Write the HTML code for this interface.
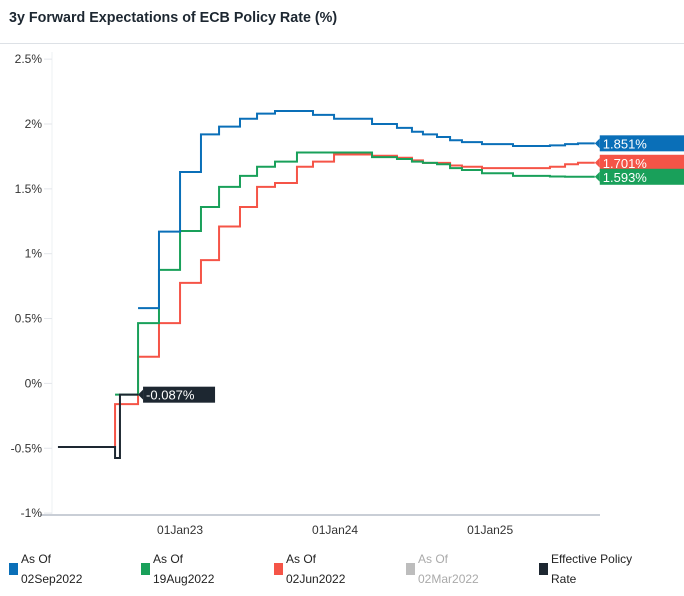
<!DOCTYPE html>
<html><head><meta charset="utf-8"><style>
body{margin:0;width:684px;height:596px;background:#fff;font-family:"Liberation Sans",sans-serif;overflow:hidden;position:relative}
.title{position:absolute;left:9px;top:10px;font-size:14.3px;font-weight:bold;color:#1d2731}
.sep{position:absolute;left:0;top:43px;width:684px;height:1px;background:#dde1e6}
.leg{position:absolute;top:549px;font-size:12px;line-height:20px;color:#222}
.leg i{position:absolute;left:-12px;top:14px;width:9px;height:12px}
</style></head><body>
<div class="title">3y Forward Expectations of ECB Policy Rate (%)</div>
<div class="sep"></div>
<svg id="c" width="684" height="540" style="position:absolute;left:0;top:0"></svg>
<div class="leg" style="left:21px"><i style="background:#0a6fb8"></i>As Of<br>02Sep2022</div>
<div class="leg" style="left:153px"><i style="background:#19a05a"></i>As Of<br>19Aug2022</div>
<div class="leg" style="left:286px"><i style="background:#f55447"></i>As Of<br>02Jun2022</div>
<div class="leg" style="left:418px;color:#aaa"><i style="background:#bdbdbd"></i>As Of<br>02Mar2022</div>
<div class="leg" style="left:551px"><i style="background:#1d2731"></i>Effective Policy<br>Rate</div>
<script>
const breaks=[2.55,5.65,6.97,7.35,8.75,10.37,12,13.62,15.02,16.64,17.96,19.35,21.05,22.29,23.92,26.86,28.79,29.95,30.8,31.89,32.9,33.82,35.37,37.77,40.63,41.8,42.8,44.1];
const effective=[-0.49,-0.49,-0.575,-0.087];
const jun=[null,-0.49,-0.16,-0.16,0.205,0.465,0.775,0.95,1.21,1.36,1.515,1.545,1.67,1.71,1.765,1.755,1.74,1.72,1.70,1.70,1.68,1.67,1.66,1.66,1.67,1.69,1.701];
const aug=[null,null,-0.087,-0.087,0.465,0.875,1.175,1.36,1.515,1.60,1.67,1.71,1.78,1.78,1.78,1.745,1.73,1.71,1.70,1.69,1.66,1.645,1.62,1.60,1.595,1.593,1.593];
const sep=[null,null,null,null,0.58,1.17,1.63,1.92,1.98,2.04,2.08,2.10,2.10,2.07,2.04,2.00,1.97,1.94,1.92,1.90,1.875,1.86,1.845,1.83,1.835,1.845,1.851];
const yTicks=[2.5,2,1.5,1,0.5,0,-0.5,-1];
const yTickLabels=["2.5%","2%","1.5%","1%","0.5%","0%","-0.5%","-1%"];
const xTicks=[12,24,36];
const xTickLabels=["01Jan23","01Jan24","01Jan25"];
const X=m=>25+m*12.92, Y=v=>383.4-v*129.7;
const svg=document.getElementById('c'),NS='http://www.w3.org/2000/svg';
function mk(t,a,p){const e=document.createElementNS(NS,t);for(const k in a)e.setAttribute(k,a[k]);(p||svg).appendChild(e);return e;}
let e=mk('line',{x1:52,y1:52,x2:52,y2:514,stroke:'#eef0f3'});


e=mk('line',{x1:40,y1:515,x2:600,y2:515,stroke:'#c9ced6','stroke-width':2});


yTicks.forEach((v,i)=>{const t=mk('text',{x:42,y:Y(v)+4,'text-anchor':'end','font-size':12,fill:'#333','font-family':'Liberation Sans'});t.textContent=yTickLabels[i];


mk('line',{x1:44,x2:52,y1:Y(v),y2:Y(v),stroke:'#e3e6ea'});});
xTicks.forEach((m,i)=>{const t=mk('text',{x:X(m),y:534,'text-anchor':'middle','font-size':12,fill:'#333','font-family':'Liberation Sans'});t.textContent=xTickLabels[i];

});
function series(vals,color,name){let d='',pen=false;vals.forEach((v,i)=>{if(v==null){pen=false;return;}const x0=X(breaks[i]),x1=X(breaks[i+1]),y=Y(v);d+=(pen?'L':'M')+x0+' '+y+'L'+x1+' '+y;pen=true;});
const p=mk('path',{d:d,fill:'none',stroke:color,'stroke-width':2});

}
series(jun,'#f55447','series-02jun2022');
series(aug,'#19a05a','series-19aug2022');
series(sep,'#0a6fb8','series-02sep2022');
series(effective,'#1d2731','series-effective-policy-rate');
function label(m,v,color,txt,w,name){const x=X(m),y=Y(v);const g=mk('g',{});


mk('polygon',{points:`${x},${y} ${x+5},${y-5} ${x+5},${y+5}`,fill:color},g);mk('rect',{x:x+5,y:y-8,width:w,height:16,fill:color},g);const t=mk('text',{x:x+8,y:y+5,'font-size':13,fill:'#fff','font-family':'Liberation Sans'},g);t.textContent=txt;}
const n=breaks.length-1;
label(breaks[n],sep[n-1],'#0a6fb8',sep[n-1].toFixed(3)+'%',86,'label-02sep2022');
label(breaks[n],jun[n-1],'#f55447',jun[n-1].toFixed(3)+'%',86,'label-02jun2022');
label(breaks[n],aug[n-1],'#19a05a',aug[n-1].toFixed(3)+'%',86,'label-19aug2022');
label(breaks[effective.length],effective[effective.length-1],'#1d2731',effective[effective.length-1].toFixed(3)+'%',72,'label-effective-policy-rate');
</script>
</body></html>
